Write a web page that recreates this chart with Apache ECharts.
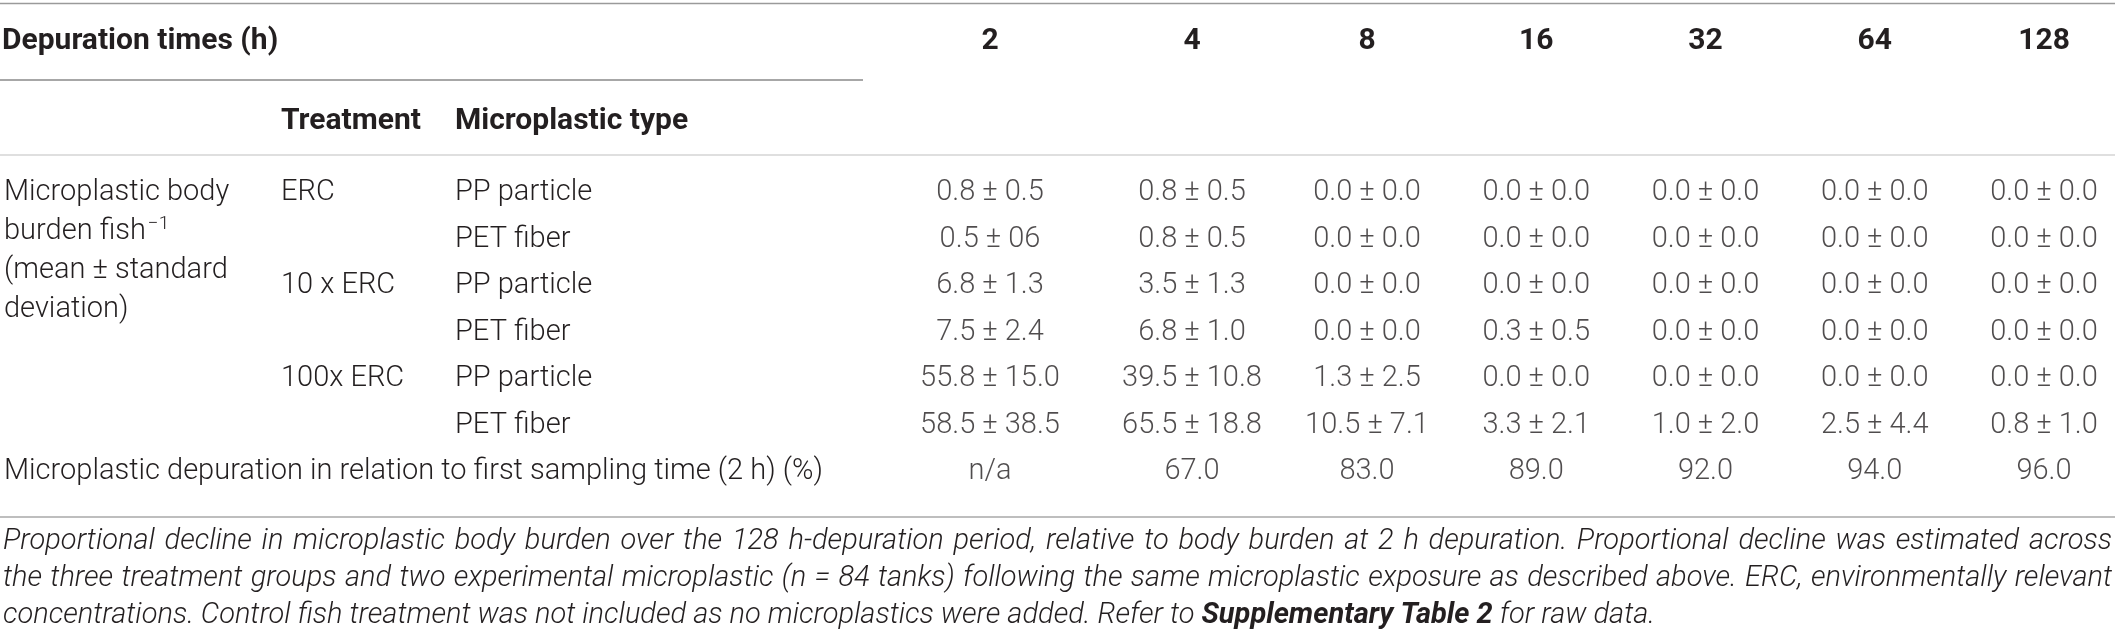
<!DOCTYPE html>
<html><head><meta charset="utf-8">
<script src="https://cdn.jsdelivr.net/npm/echarts@6/dist/echarts.min.js"></script>
<style>html,body{margin:0;padding:0;background:#fff}#c{width:2115px;height:639px}</style>
</head><body><div id="c"></div>
<script>
// ---------- data ----------
const depurationTimes = ['2', '4', '8', '16', '32', '64', '128'];
const treatments = ['ERC', '10 x ERC', '100x ERC'];
const microplasticTypes = ['PP particle', 'PET fiber'];
const ercPP      = ['0.8 ± 0.5', '0.8 ± 0.5', '0.0 ± 0.0', '0.0 ± 0.0', '0.0 ± 0.0', '0.0 ± 0.0', '0.0 ± 0.0'];
const ercPET     = ['0.5 ± 06', '0.8 ± 0.5', '0.0 ± 0.0', '0.0 ± 0.0', '0.0 ± 0.0', '0.0 ± 0.0', '0.0 ± 0.0'];
const erc10PP    = ['6.8 ± 1.3', '3.5 ± 1.3', '0.0 ± 0.0', '0.0 ± 0.0', '0.0 ± 0.0', '0.0 ± 0.0', '0.0 ± 0.0'];
const erc10PET   = ['7.5 ± 2.4', '6.8 ± 1.0', '0.0 ± 0.0', '0.3 ± 0.5', '0.0 ± 0.0', '0.0 ± 0.0', '0.0 ± 0.0'];
const erc100PP   = ['55.8 ± 15.0', '39.5 ± 10.8', '1.3 ± 2.5', '0.0 ± 0.0', '0.0 ± 0.0', '0.0 ± 0.0', '0.0 ± 0.0'];
const erc100PET  = ['58.5 ± 38.5', '65.5 ± 18.8', '10.5 ± 7.1', '3.3 ± 2.1', '1.0 ± 2.0', '2.5 ± 4.4', '0.8 ± 1.0'];
const depurationPercent = ['n/a', '67.0', '83.0', '89.0', '92.0', '94.0', '96.0'];
const headerLabel = 'Depuration times (h)';
const treatmentHeader = 'Treatment';
const typeHeader = 'Microplastic type';
const bodyBurdenLabel = '{t|Microplastic body}\n{t|burden fish}{sup|−1}\n{t|(mean ± standard}\n{t|deviation)}';
const depurationLabel = 'Microplastic depuration in relation to first sampling time (2 h) (%)';
const captionLines = [
  'Proportional decline in microplastic body burden over the 128 h-depuration period, relative to body burden at 2 h depuration. Proportional decline was estimated across',
  'the three treatment groups and two experimental microplastic (n = 84 tanks) following the same microplastic exposure as described above. ERC, environmentally relevant'
];
const captionLastLine = 'concentrations. Control fish treatment was not included as no microplastics were added. Refer to {b|Supplementary Table 2} for raw data.';

// ---------- table structure ----------
const bodyRows = [ercPP, ercPET, erc10PP, erc10PET, erc100PP, erc100PET, depurationPercent];
const rowKeys = bodyRows.map((_, i) => 'row' + i);
const colsA = depurationTimes.slice(0, 2);
const colsB = depurationTimes.slice(2);

const FONT = 'Roboto';
const TXT = '#231f20';
const FS = 29;
const FSB = 30;
const CAP_FONT = `italic 300 29px ${FONT}`;

function cellData(cols, offset) {
  const out = [];
  bodyRows.forEach((row, r) => {
    cols.forEach((c, j) => {
      out.push({ value: [c, rowKeys[r]], text: row[offset + j] });
    });
  });
  return out;
}

const hiddenAxis = { axisLine: { show: false }, axisTick: { show: false }, splitLine: { show: false } };

const GRID_TOP = 169.75, ROW_H = 46.5;
const GRID_A_LEFT = 889;
const gridA = { left: GRID_A_LEFT, width: 404, top: GRID_TOP, height: ROW_H * 7, outerBoundsMode: 'none', containLabel: false };
const gridB = { left: 1282.4, width: 846.25, top: GRID_TOP, height: ROW_H * 7, outerBoundsMode: 'none', containLabel: false };

const topLabel = {
  interval: 0, margin: GRID_TOP - 41, verticalAlign: 'middle',
  fontFamily: FONT, fontWeight: 'bold', fontSize: FSB, color: TXT
};

const rowLabelBase = { interval: 0, align: 'left', fontFamily: FONT, fontWeight: 300, fontSize: FS, color: TXT };

// justified caption lines (layout of the text block only)
const measureCtx = document.createElement('canvas').getContext('2d');
measureCtx.font = CAP_FONT;
const CAP_LEFT = 3, CAP_RIGHT = 2112, CAP_TOP = 523.5, CAP_LH = 37;
const captionGraphics = [];
captionLines.forEach((line, li) => {
  const words = line.split(' ');
  const widths = words.map(w => measureCtx.measureText(w).width);
  const total = widths.reduce((a, b) => a + b, 0);
  const gap = (CAP_RIGHT - CAP_LEFT - total) / (words.length - 1);
  let x = CAP_LEFT;
  words.forEach((w, wi) => {
    captionGraphics.push({ type: 'text', x: x, y: CAP_TOP + li * CAP_LH, silent: true,
      style: { text: w, verticalAlign: 'top', lineHeight: CAP_LH, font: CAP_FONT, fill: TXT } });
    x += widths[wi] + gap;
  });
});
captionGraphics.push({ type: 'text', x: CAP_LEFT, y: CAP_TOP + captionLines.length * CAP_LH, silent: true,
  style: { text: captionLastLine, verticalAlign: 'top', lineHeight: CAP_LH, font: CAP_FONT, fill: TXT,
    rich: { b: { font: `italic bold 29px ${FONT}`, fill: TXT, lineHeight: CAP_LH } } } });

const option = {
  animation: false,
  backgroundColor: '#ffffff',
  grid: [gridA, gridB],
  xAxis: [
    Object.assign({ type: 'category', gridIndex: 0, position: 'top', data: colsA, axisLabel: topLabel }, hiddenAxis),
    Object.assign({ type: 'category', gridIndex: 1, position: 'top', data: colsB, axisLabel: topLabel }, hiddenAxis)
  ],
  yAxis: [
    Object.assign({ type: 'category', gridIndex: 0, position: 'left', inverse: true, data: rowKeys, axisLabel: { show: false } }, hiddenAxis),
    Object.assign({ type: 'category', gridIndex: 1, position: 'left', inverse: true, data: rowKeys, axisLabel: { show: false } }, hiddenAxis),
    // Microplastic type column
    Object.assign({ type: 'category', gridIndex: 0, position: 'left', inverse: true, data: rowKeys,
      axisLabel: Object.assign({}, rowLabelBase, { margin: GRID_A_LEFT - 455,
        formatter: (v, i) => i < 6 ? microplasticTypes[i % 2] : '' }) }, hiddenAxis),
    // Treatment column
    Object.assign({ type: 'category', gridIndex: 0, position: 'left', inverse: true, data: rowKeys,
      axisLabel: Object.assign({}, rowLabelBase, { margin: GRID_A_LEFT - 281,
        formatter: (v, i) => (i < 6 && i % 2 === 0) ? treatments[i / 2] : '' }) }, hiddenAxis),
    // First column
    Object.assign({ type: 'category', gridIndex: 0, position: 'left', inverse: true,
      data: rowKeys.map((k, i) => i === 0
        ? { value: k, textStyle: { align: 'left', verticalAlign: 'top', lineHeight: 39, padding: [-19.5, 0, 0, 0] } }
        : k),
      axisLabel: Object.assign({}, rowLabelBase, { margin: GRID_A_LEFT - 4,
        formatter: (v, i) => i === 0 ? bodyBurdenLabel : (i === 6 ? depurationLabel : ''),
        rich: {
          t: { fontFamily: FONT, fontWeight: 300, fontSize: FS, color: TXT, lineHeight: 39 },
          sup: { fontFamily: FONT, fontWeight: 300, fontSize: 19, color: TXT, padding: [0, 0, 16, 2], lineHeight: 39 }
        } }) }, hiddenAxis)
  ],
  series: [
    { type: 'scatter', xAxisIndex: 0, yAxisIndex: 0, symbolSize: 0, silent: true, data: cellData(colsA, 0),
      label: { show: true, position: 'inside', formatter: p => p.data.text, fontFamily: FONT, fontWeight: 300, fontSize: FS, color: TXT } },
    { type: 'scatter', xAxisIndex: 1, yAxisIndex: 1, symbolSize: 0, silent: true, data: cellData(colsB, 2),
      label: { show: true, position: 'inside', formatter: p => p.data.text, fontFamily: FONT, fontWeight: 300, fontSize: FS, color: TXT } }
  ],
  graphic: [
    { type: 'line', shape: { x1: 0, y1: 3.5, x2: 2115, y2: 3.5 }, style: { stroke: '#9a9a9a', lineWidth: 1.5 } },
    { type: 'line', shape: { x1: 0, y1: 80, x2: 863, y2: 80 }, style: { stroke: '#8a8a8a', lineWidth: 1.5 } },
    { type: 'line', shape: { x1: 0, y1: 155, x2: 2115, y2: 155 }, style: { stroke: '#d4d4d4', lineWidth: 1.5 } },
    { type: 'line', shape: { x1: 0, y1: 517, x2: 2115, y2: 517 }, style: { stroke: '#a8a8a8', lineWidth: 1.5 } },
    { type: 'text', x: 2, y: 41, style: { text: headerLabel, verticalAlign: 'middle', font: `bold ${FSB}px ${FONT}`, fill: TXT } },
    { type: 'text', x: 281, y: 121, style: { text: treatmentHeader, verticalAlign: 'middle', font: `bold ${FSB}px ${FONT}`, fill: TXT } },
    { type: 'text', x: 455, y: 121, style: { text: typeHeader, verticalAlign: 'middle', font: `bold ${FSB}px ${FONT}`, fill: TXT } }
  ].concat(captionGraphics)
};

const chart = echarts.init(document.getElementById('c'), null, { renderer: 'canvas' });
chart.setOption(option);
</script>
</body></html>
